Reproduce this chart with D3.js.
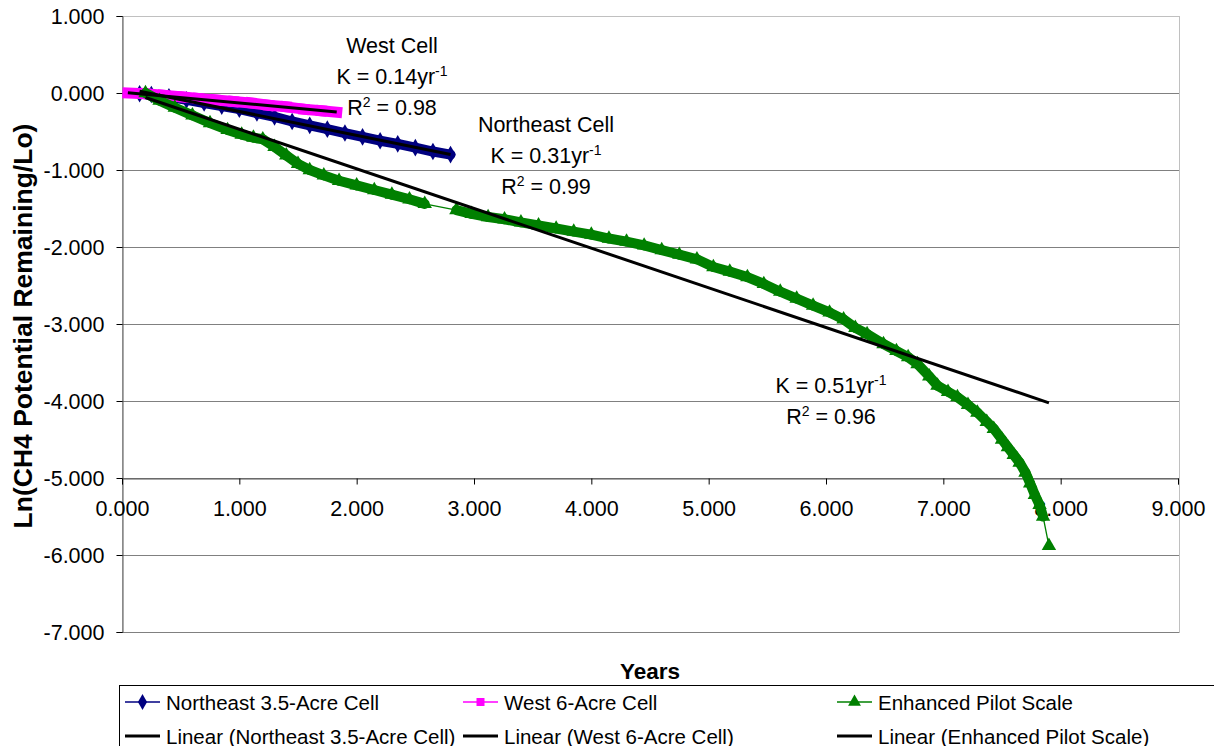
<!DOCTYPE html>
<html><head><meta charset="utf-8">
<script src="https://cdn.jsdelivr.net/npm/d3@7"></script>
<style>
body{margin:0;background:#fff}
text{font-family:"Liberation Sans",Arial,sans-serif;fill:#000}
</style>
</head><body><svg id="c" width="1214" height="746"></svg>
<script>
// ---- data ----
const neYears  = [0.15,0.25,0.40,0.55,0.70,0.85,1.00,1.15,1.30,1.45,1.60,1.75,1.90,2.05,2.20,2.35,2.50,2.65,2.80];
const neLn     = [-0.01,-0.02,-0.05,-0.09,-0.13,-0.17,-0.21,-0.26,-0.31,-0.37,-0.42,-0.47,-0.52,-0.57,-0.62,-0.66,-0.71,-0.76,-0.80];
const westYears = [0.05,0.20,0.35,0.50,0.65,0.80,0.95,1.10,1.25,1.40,1.55,1.70,1.83];
const westLn    = [0.00,-0.01,-0.03,-0.05,-0.07,-0.09,-0.11,-0.13,-0.16,-0.18,-0.21,-0.23,-0.25];
const pilotYears = [0.20,0.32,0.45,0.60,0.75,0.90,1.02,1.12,1.20,1.30,1.40,1.50,1.60,1.72,1.85,2.00,2.15,2.30,2.45,2.58,
  2.85,2.98,3.12,3.26,3.40,3.55,3.70,3.85,4.00,4.15,4.30,4.45,4.60,4.75,4.90,5.04,5.18,5.33,5.47,5.61,5.75,5.89,6.03,6.15,
  6.25,6.35,6.49,6.60,6.70,6.78,6.88,6.95,7.04,7.12,7.21,7.29,7.37,7.43,7.50,7.55,7.60,7.65,7.70,7.74,7.78,7.82,7.85,7.90];
const pilotLn = [0.00,-0.10,-0.19,-0.29,-0.39,-0.48,-0.54,-0.58,-0.60,-0.70,-0.81,-0.92,-1.00,-1.07,-1.14,-1.20,-1.26,-1.32,-1.38,-1.44,
  -1.52,-1.57,-1.61,-1.64,-1.68,-1.72,-1.76,-1.80,-1.84,-1.89,-1.93,-1.98,-2.04,-2.10,-2.16,-2.26,-2.32,-2.39,-2.48,-2.58,-2.67,-2.76,-2.85,-2.94,
  -3.05,-3.13,-3.26,-3.35,-3.43,-3.52,-3.68,-3.80,-3.88,-3.95,-4.05,-4.15,-4.27,-4.36,-4.50,-4.60,-4.70,-4.80,-4.93,-5.07,-5.22,-5.35,-5.50,-5.88];
// linear trendlines (slope, intercept) in order NE, West, Pilot
const fitSlope     = [-0.31, -0.14, -0.515];
const fitIntercept = [0.07, 0.01, 0.045];
const xTicks = [0,1,2,3,4,5,6,7,8,9];
const yTicks = [1,0,-1,-2,-3,-4,-5,-6,-7];
const seriesNames = ["Northeast 3.5-Acre Cell","West 6-Acre Cell","Enhanced Pilot Scale"];
const trendNames = ["Linear (Northeast 3.5-Acre Cell)","Linear (West 6-Acre Cell)","Linear (Enhanced Pilot Scale)"];
const seriesColors = ["#000080","#ff00ff","#008000"];

// ---- layout ----
const svg = d3.select("#c");
const L = 122, R = 1178, T = 16, B = 632;
const x = d3.scaleLinear().domain([0,9]).range([L,R]);
const y = d3.scaleLinear().domain([-7,1]).range([B,T]);
const fmt = d3.formatLocale({decimal:".",thousands:",",grouping:[3],currency:["",""],minus:"-"}).format(".3f");

svg.append("rect").attr("width",1214).attr("height",746).attr("fill","#fff");
// plot border
svg.append("rect").attr("x",L+0.5).attr("y",T+0.5).attr("width",R-L+1).attr("height",B-T)
  .attr("fill","none").attr("stroke","#c0c0c0").attr("stroke-width",1);
// gridlines
svg.append("g").selectAll("line").data(yTicks.filter(d=>d<1)).join("line")
  .attr("x1",L).attr("x2",R+1).attr("y1",d=>Math.round(y(d))+0.5).attr("y2",d=>Math.round(y(d))+0.5)
  .attr("stroke","#808080").attr("stroke-width",1);

// y axis
const yAxis = svg.append("g").attr("transform",`translate(${L+0.5},0)`)
  .call(d3.axisLeft(y).tickValues(yTicks).tickFormat(fmt).tickSizeOuter(0).tickSize(6).tickPadding(12));
yAxis.select(".domain").attr("stroke","#555");
yAxis.selectAll(".tick line").attr("stroke","#000");
yAxis.selectAll("text").attr("font-size",21.5).attr("font-family","Liberation Sans, Arial, sans-serif").attr("dy","0.36em");

// x axis crossing at y=-5
const xAxis = svg.append("g").attr("transform",`translate(0,${Math.round(y(-5))+0.5})`)
  .call(d3.axisBottom(x).tickValues(xTicks).tickFormat(fmt).tickSizeOuter(0).tickSize(6).tickPadding(16));
xAxis.select(".domain").attr("stroke","#555");
xAxis.selectAll(".tick line").attr("stroke","#000");
xAxis.selectAll("text").attr("font-size",21.5).attr("font-family","Liberation Sans, Arial, sans-serif");

// axis titles
svg.append("text").attr("x",(L+R)/2).attr("y",679).attr("text-anchor","middle")
  .attr("font-weight","bold").attr("font-size",22.5).text("Years");
svg.append("text").attr("transform",`translate(31.5,${(T+B)/2 + 2}) rotate(-90)`).attr("text-anchor","middle")
  .attr("font-weight","bold").attr("font-size",26.5).text("Ln(CH4 Potential Remaining/Lo)");

// ---- series ----
const symbols = [d3.symbolDiamond, d3.symbolSquare, d3.symbolTriangle];
const symSize = [90, 80, 90];
const bandW = [10, 11, 10];
const series = [
  neYears.map((v,i)=>[v,neLn[i]]),
  westYears.map((v,i)=>[v,westLn[i]]),
  pilotYears.map((v,i)=>[v,pilotLn[i]])
];
const line = d3.line().x(d=>x(d[0])).y(d=>y(d[1]));
series.forEach((pts,si)=>{
  const g = svg.append("g");
  const c = seriesColors[si];
  g.append("path").attr("d",line(pts)).attr("fill","none").attr("stroke",c).attr("stroke-width",1.3);
  // dense-marker band: connect neighbours that sit close together on screen
  pts.slice(1).forEach((p,i)=>{
    const q = pts[i];
    const dist = Math.hypot(x(p[0])-x(q[0]), y(p[1])-y(q[1]));
    if (dist < 24) g.append("path").attr("d",line([q,p])).attr("fill","none").attr("stroke",c)
      .attr("stroke-width",bandW[si]).attr("stroke-linecap", si===1 ? "square" : "round");
  });
  g.selectAll(".m").data(pts).join("path").attr("class","m")
    .attr("transform",d=>`translate(${x(d[0])},${y(d[1])})`)
    .attr("d",d3.symbol().type(symbols[si]).size(symSize[si])).attr("fill",c);
});
// trendlines
series.forEach((pts,si)=>{
  const x0 = d3.min(pts,d=>d[0]), x1 = d3.max(pts,d=>d[0]);
  svg.append("line").attr("x1",x(x0)).attr("x2",x(x1))
    .attr("y1",y(fitSlope[si]*x0+fitIntercept[si])).attr("y2",y(fitSlope[si]*x1+fitIntercept[si]))
    .attr("stroke","#000").attr("stroke-width",3);
});

// ---- annotations ----
const notes = [
  {cx:392, y0:53, rows:[[["West Cell",0]],[["K = 0.14yr",0],["-1",1]],[["R",0],["2",1],[" = 0.98",0]]]},
  {cx:546, y0:132, rows:[[["Northeast Cell",0]],[["K = 0.31yr",0],["-1",1]],[["R",0],["2",1],[" = 0.99",0]]]},
  {cx:831, y0:393, rows:[[["K = 0.51yr",0],["-1",1]],[["R",0],["2",1],[" = 0.96",0]]]}
];
notes.forEach(n=>{
  n.rows.forEach((row,ri)=>{
    const t = svg.append("text").attr("x",n.cx).attr("y",n.y0+ri*31).attr("text-anchor","middle").attr("font-size",21.5);
    row.forEach(([s,sup])=>{
      const ts = t.append("tspan").text(s);
      if (sup) ts.attr("font-size",14).attr("baseline-shift","55%");
    });
  });
});

// ---- legend ----
const lg = svg.append("g");
lg.append("rect").attr("x",119.5).attr("y",685.5).attr("width",1100).attr("height",80)
  .attr("fill","#fff").attr("stroke","#000").attr("stroke-width",1);
const colX = [125, 463, 837];
const rowY = [702, 736];
seriesNames.forEach((nm,i)=>{
  const cx = colX[i];
  lg.append("line").attr("x1",cx).attr("x2",cx+35).attr("y1",rowY[0]).attr("y2",rowY[0])
    .attr("stroke",seriesColors[i]).attr("stroke-width",1.5);
  lg.append("path").attr("transform",`translate(${cx+17.5},${rowY[0]})`)
    .attr("d",d3.symbol().type(symbols[i]).size(symSize[i]*0.8)).attr("fill",seriesColors[i]);
  lg.append("text").attr("x",cx+41).attr("y",rowY[0]+7.5).attr("font-size",20.5).text(nm);
  lg.append("line").attr("x1",cx).attr("x2",cx+35).attr("y1",rowY[1]).attr("y2",rowY[1])
    .attr("stroke","#000").attr("stroke-width",3);
  lg.append("text").attr("x",cx+41).attr("y",rowY[1]+7.5).attr("font-size",20.5).text(trendNames[i]);
});
</script></body></html>
